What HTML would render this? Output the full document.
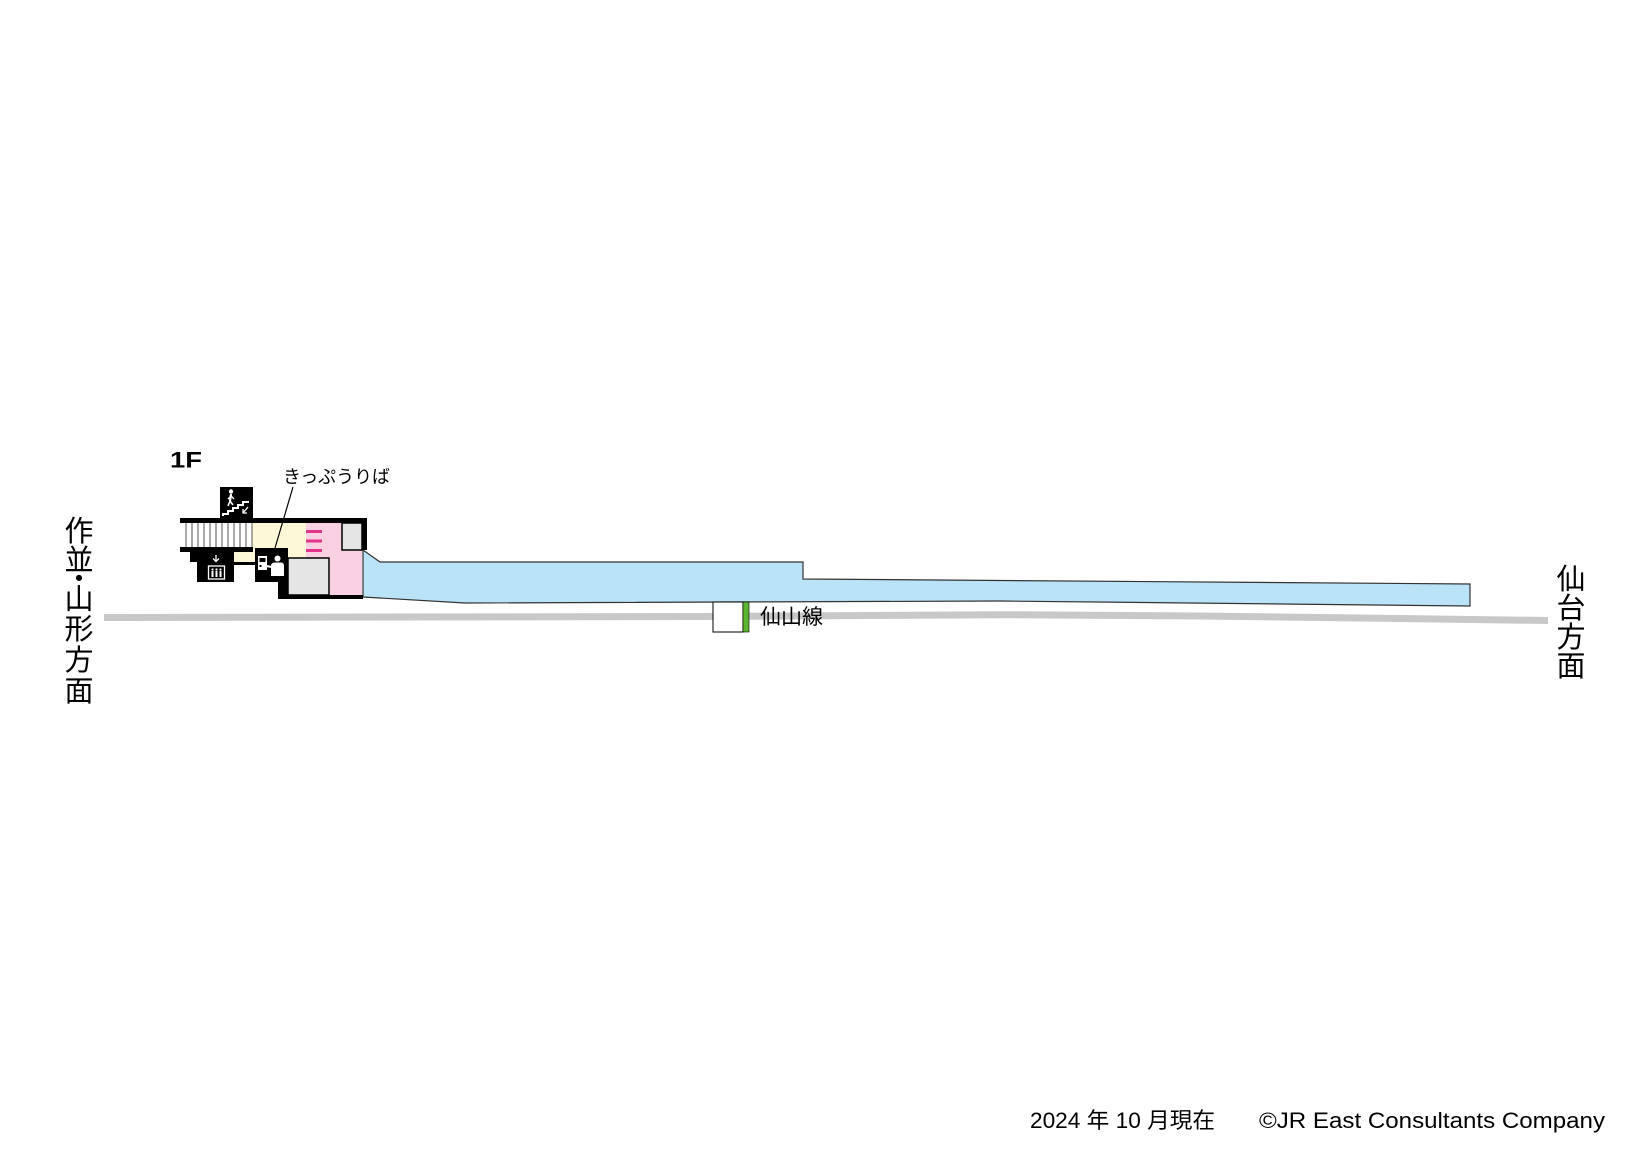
<!DOCTYPE html>
<html><head><meta charset="utf-8"><style>
html,body{margin:0;padding:0;background:#fff;}
svg{display:block;}
text{font-family:"Liberation Sans","Noto Sans CJK JP",sans-serif;fill:#000;}
</style></head><body>
<svg width="1642" height="1162" viewBox="0 0 1642 1162" xmlns="http://www.w3.org/2000/svg">
<rect x="0" y="0" width="1642" height="1162" fill="#fff"/>

<!-- track -->
<polyline points="104,617.5 700,616.5 1000,614.7 1200,616 1400,618.5 1548,620.5" stroke="#c8c8c8" stroke-width="7" fill="none"/>

<!-- platform -->
<polygon points="363,550 380,562 803,562 803,579 1470,584 1470,606 1000,601 465,603 363,597" fill="#bbe3f7" stroke="#333" stroke-width="1.2"/>

<!-- platform number box -->
<rect x="713" y="602" width="30" height="30" fill="#fff" stroke="#000" stroke-width="1"/>
<rect x="743" y="602" width="6" height="30" fill="#5cb531" stroke="#000" stroke-width="0.6"/>
<text x="760" y="624" font-size="21" textLength="63" lengthAdjust="spacingAndGlyphs">仙山線</text>

<!-- building fills -->
<rect x="252" y="523" width="54" height="35" fill="#fdf9d8"/>
<rect x="233" y="552" width="23" height="11" fill="#fdf9d8"/>
<rect x="306" y="523" width="56" height="72" fill="#f8d0e2"/>
<rect x="288" y="558" width="41" height="37" fill="#e5e5e5" stroke="#000" stroke-width="1.5"/>
<rect x="342" y="523" width="20" height="27" fill="#e5e5e5" stroke="#000" stroke-width="1.5"/>

<!-- stairs -->
<rect x="180" y="523" width="72" height="24" fill="#fff"/>
<g stroke="#555" stroke-width="1">
<line x1="186" y1="523" x2="186" y2="547"/><line x1="192" y1="523" x2="192" y2="547"/>
<line x1="198" y1="523" x2="198" y2="547"/><line x1="204" y1="523" x2="204" y2="547"/>
<line x1="210" y1="523" x2="210" y2="547"/><line x1="216" y1="523" x2="216" y2="547"/>
<line x1="222" y1="523" x2="222" y2="547"/><line x1="228" y1="523" x2="228" y2="547"/>
<line x1="234" y1="523" x2="234" y2="547"/><line x1="240" y1="523" x2="240" y2="547"/>
<line x1="246" y1="523" x2="246" y2="547"/><line x1="252" y1="523" x2="252" y2="547"/>
</g>

<!-- magenta bars -->
<rect x="306" y="530" width="16" height="3" fill="#e4348a"/>
<rect x="306" y="539.5" width="16" height="3" fill="#e4348a"/>
<rect x="306" y="549" width="16" height="3" fill="#e4348a"/>

<!-- walls -->
<rect x="180" y="518" width="187" height="5" fill="#000"/>
<rect x="362" y="518" width="5" height="32" fill="#000"/>
<rect x="180" y="547" width="73" height="5" fill="#000"/>
<polygon points="190,549 234,549 234,582 197,582 197,562 190,562" fill="#000"/>
<rect x="233" y="562" width="23" height="3" fill="#000"/>
<rect x="255" y="548" width="33" height="34" fill="#000"/>
<rect x="278" y="580" width="10" height="19" fill="#000"/>
<rect x="278" y="595" width="85" height="4" fill="#000"/>

<!-- stair icon -->
<rect x="220" y="487" width="33" height="32" fill="#000"/>
<g fill="#fff" stroke="#fff">
<circle cx="231" cy="491.5" r="2.2" stroke="none"/>
<line x1="231" y1="494" x2="230" y2="501" stroke-width="2.2"/>
<line x1="230" y1="501" x2="228" y2="506" stroke-width="1.6"/>
<line x1="230" y1="501" x2="233" y2="505" stroke-width="1.6"/>
<line x1="231" y1="496" x2="234" y2="499" stroke-width="1.3"/>
<line x1="231" y1="496" x2="228" y2="499" stroke-width="1.3"/>
</g>
<polygon points="222,516 222,513 227,513 227,510 232,510 232,507 237,507 237,504 242,504 242,501 249,501 249,503 244,503 244,506 239,506 239,509 234,509 234,512 229,512 229,515 224,515 224,516" fill="#fff"/>
<line x1="248" y1="507" x2="243" y2="513" stroke="#fff" stroke-width="1.3"/>
<polyline points="243,509 243,513 247,513" stroke="#fff" stroke-width="1.3" fill="none"/>

<!-- elevator icon -->
<line x1="216" y1="555" x2="216" y2="561" stroke="#fff" stroke-width="1.3"/>
<polyline points="213,558.5 216,561.5 219,558.5" stroke="#fff" stroke-width="1.3" fill="none"/>
<rect x="208.5" y="566" width="16" height="13" fill="none" stroke="#fff" stroke-width="1.3"/>
<g fill="#fff">
<circle cx="212.5" cy="569.5" r="1.1"/><rect x="211.5" y="571" width="2" height="6"/>
<circle cx="216.5" cy="569.5" r="1.1"/><rect x="215.5" y="571" width="2" height="6"/>
<circle cx="220.5" cy="569.5" r="1.1"/><rect x="219.5" y="571" width="2" height="6"/>
</g>

<!-- ticket icon -->
<rect x="258" y="556" width="9" height="14" fill="#fff"/>
<rect x="259.5" y="558" width="6" height="4" fill="#000"/>
<rect x="259.5" y="565" width="2" height="2" fill="#000"/>
<circle cx="277.5" cy="558.5" r="3" fill="#fff"/>
<path d="M271,576 L271,566 Q271,562.5 275,562.5 L281,562.5 Q284,562.5 284,566 L284,576 Z" fill="#fff"/>
<line x1="271" y1="567" x2="267" y2="566" stroke="#fff" stroke-width="2"/>

<!-- leader line -->
<line x1="293" y1="487" x2="275" y2="548" stroke="#000" stroke-width="1.2"/>

<!-- labels -->
<text x="170" y="467.5" font-size="22.5" font-weight="bold" textLength="32" lengthAdjust="spacingAndGlyphs">1F</text>
<text x="283" y="483" font-size="18" textLength="107" lengthAdjust="spacingAndGlyphs">きっぷうりば</text>

<!-- left vertical label -->
<g font-size="29" text-anchor="middle">
<text x="79" y="541">作</text>
<text x="79" y="570">並</text>
<text x="79" y="589">・</text>
<text x="79" y="609">山</text>
<text x="79" y="639">形</text>
<text x="79" y="670">方</text>
<text x="79" y="701">面</text>
</g>

<!-- right vertical label -->
<g font-size="29" text-anchor="middle">
<text x="1571" y="589">仙</text>
<text x="1571" y="618">台</text>
<text x="1571" y="647">方</text>
<text x="1571" y="676">面</text>
</g>

<!-- footer -->
<text x="1030" y="1128" font-size="22" textLength="185" lengthAdjust="spacingAndGlyphs">2024 年 10 月現在</text>
<text x="1259" y="1128" font-size="22" textLength="346" lengthAdjust="spacingAndGlyphs">©JR East Consultants Company</text>
</svg>
</body></html>
